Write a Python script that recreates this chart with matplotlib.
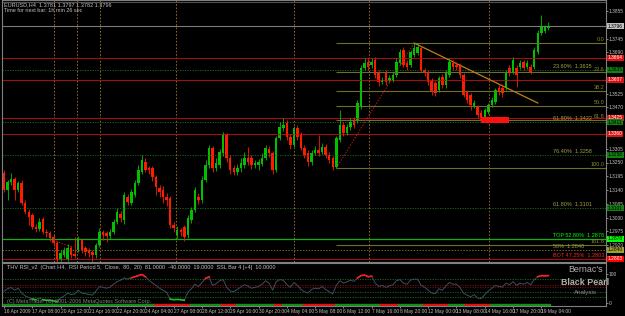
import numpy as np
import matplotlib
matplotlib.use("Agg")
import matplotlib.pyplot as plt
import matplotlib.transforms as mtrans

plt.rcParams['font.family'] = ['Liberation Sans', 'DejaVu Sans']

# EURUSD H4 candles
opens = [1.3208, 1.3140, 1.3172, 1.3184, 1.3140, 1.3168, 1.3088, 1.3052, 1.3040, 1.2992,
         1.2984, 1.3024, 1.2972, 1.2968, 1.2952, 1.2928, 1.2864, 1.2880, 1.2860, 1.2908,
         1.2884, 1.2900, 1.2940, 1.2908, 1.2900, 1.2892, 1.2880, 1.2920, 1.2972, 1.2968,
         1.2956, 1.2972, 1.3012, 1.3044, 1.3020, 1.3112, 1.3088, 1.3120, 1.3168, 1.3212,
         1.3252, 1.3228, 1.3228, 1.3192, 1.3148, 1.3140, 1.3112, 1.3108, 1.3000, 1.2960,
         1.2980, 1.2992, 1.2960, 1.3020, 1.3060, 1.3112, 1.3100, 1.3180, 1.3240, 1.3308,
         1.3228, 1.3240, 1.3288, 1.3360, 1.3268, 1.3228, 1.3212, 1.3228, 1.3240, 1.3268,
         1.3268, 1.3240, 1.3240, 1.3244, 1.3268, 1.3304, 1.3288, 1.3220, 1.3348, 1.3388,
         1.3408, 1.3352, 1.3320, 1.3388, 1.3360, 1.3308, 1.3288, 1.3252, 1.3288, 1.3300,
         1.3292, 1.3312, 1.3280, 1.3268, 1.3232, 1.3340, 1.3400, 1.3368, 1.3392, 1.3420,
         1.3420, 1.3472, 1.3628, 1.3652, 1.3640, 1.3660, 1.3612, 1.3572, 1.3612, 1.3580,
         1.3580, 1.3600, 1.3648, 1.3700, 1.3648, 1.3640, 1.3680, 1.3688, 1.3708, 1.3620,
         1.3612, 1.3580, 1.3568, 1.3540, 1.3592, 1.3560, 1.3600, 1.3648, 1.3640, 1.3640,
         1.3600, 1.3532, 1.3520, 1.3476, 1.3472, 1.3448, 1.3420, 1.3452, 1.3480, 1.3492,
         1.3548, 1.3548, 1.3548, 1.3628, 1.3612, 1.3628, 1.3632, 1.3652, 1.3632, 1.3632,
         1.3632, 1.3692, 1.3768, 1.3776, 1.3788]
highs = [1.3220, 1.3180, 1.3208, 1.3192, 1.3176, 1.3180, 1.3100, 1.3064, 1.3048, 1.3004,
         1.3028, 1.3032, 1.2984, 1.2976, 1.2960, 1.2936, 1.2900, 1.2912, 1.2924, 1.2916,
         1.2952, 1.2956, 1.2948, 1.2916, 1.2908, 1.2900, 1.2928, 1.2988, 1.2980, 1.2976,
         1.2984, 1.3024, 1.3068, 1.3056, 1.3132, 1.3124, 1.3144, 1.3180, 1.3240, 1.3280,
         1.3268, 1.3236, 1.3236, 1.3200, 1.3160, 1.3156, 1.3128, 1.3116, 1.3012, 1.2996,
         1.2988, 1.3000, 1.3040, 1.3072, 1.3152, 1.3128, 1.3196, 1.3260, 1.3320, 1.3316,
         1.3268, 1.3304, 1.3372, 1.3368, 1.3280, 1.3240, 1.3244, 1.3268, 1.3292, 1.3312,
         1.3280, 1.3260, 1.3264, 1.3288, 1.3320, 1.3316, 1.3296, 1.3356, 1.3412, 1.3428,
         1.3420, 1.3364, 1.3396, 1.3400, 1.3372, 1.3320, 1.3300, 1.3300, 1.3316, 1.3360,
         1.3328, 1.3324, 1.3292, 1.3276, 1.3356, 1.3460, 1.3412, 1.3404, 1.3428, 1.3432,
         1.3500, 1.3640, 1.3668, 1.3668, 1.3668, 1.3672, 1.3620, 1.3592, 1.3620, 1.3600,
         1.3612, 1.3668, 1.3704, 1.3712, 1.3660, 1.3700, 1.3728, 1.3724, 1.3716, 1.3628,
         1.3620, 1.3588, 1.3576, 1.3596, 1.3604, 1.3620, 1.3668, 1.3660, 1.3652, 1.3648,
         1.3608, 1.3540, 1.3528, 1.3500, 1.3480, 1.3460, 1.3468, 1.3488, 1.3512, 1.3548,
         1.3560, 1.3564, 1.3620, 1.3640, 1.3672, 1.3640, 1.3660, 1.3660, 1.3660, 1.3644,
         1.3712, 1.3780, 1.3840, 1.3800, 1.3812]
lows = [1.3132, 1.3100, 1.3160, 1.3100, 1.3132, 1.3080, 1.3044, 1.3000, 1.2984, 1.2972,
        1.2976, 1.2964, 1.2952, 1.2936, 1.2916, 1.2852, 1.2856, 1.2872, 1.2856, 1.2868,
        1.2868, 1.2892, 1.2888, 1.2876, 1.2872, 1.2852, 1.2868, 1.2912, 1.2940, 1.2932,
        1.2944, 1.2964, 1.3004, 1.3012, 1.3004, 1.3080, 1.3080, 1.3112, 1.3160, 1.3204,
        1.3212, 1.3204, 1.3176, 1.3120, 1.3112, 1.3088, 1.3076, 1.2988, 1.2972, 1.2948,
        1.2956, 1.2936, 1.2948, 1.3008, 1.3052, 1.3084, 1.3088, 1.3172, 1.3228, 1.3212,
        1.3216, 1.3228, 1.3276, 1.3252, 1.3204, 1.3200, 1.3200, 1.3212, 1.3228, 1.3240,
        1.3224, 1.3228, 1.3220, 1.3236, 1.3260, 1.3272, 1.3204, 1.3212, 1.3340, 1.3376,
        1.3340, 1.3304, 1.3312, 1.3340, 1.3300, 1.3268, 1.3236, 1.3240, 1.3280, 1.3276,
        1.3284, 1.3268, 1.3248, 1.3220, 1.3228, 1.3332, 1.3356, 1.3360, 1.3380, 1.3388,
        1.3408, 1.3464, 1.3620, 1.3620, 1.3628, 1.3588, 1.3556, 1.3564, 1.3560, 1.3572,
        1.3572, 1.3592, 1.3640, 1.3632, 1.3620, 1.3632, 1.3672, 1.3680, 1.3612, 1.3596,
        1.3560, 1.3520, 1.3516, 1.3532, 1.3548, 1.3548, 1.3592, 1.3620, 1.3620, 1.3588,
        1.3512, 1.3488, 1.3460, 1.3468, 1.3428, 1.3412, 1.3412, 1.3444, 1.3472, 1.3484,
        1.3520, 1.3512, 1.3540, 1.3596, 1.3604, 1.3552, 1.3624, 1.3620, 1.3624, 1.3604,
        1.3624, 1.3684, 1.3760, 1.3768, 1.3780]
closes = [1.3140, 1.3172, 1.3184, 1.3140, 1.3168, 1.3088, 1.3052, 1.3032, 1.2992, 1.2984,
          1.3012, 1.2972, 1.2968, 1.2948, 1.2928, 1.2864, 1.2888, 1.2900, 1.2908, 1.2880,
          1.2876, 1.2940, 1.2900, 1.2892, 1.2888, 1.2880, 1.2920, 1.2972, 1.2960, 1.2956,
          1.2972, 1.3012, 1.3052, 1.3028, 1.3120, 1.3092, 1.3132, 1.3168, 1.3220, 1.3260,
          1.3220, 1.3220, 1.3192, 1.3152, 1.3132, 1.3112, 1.3100, 1.3000, 1.2988, 1.2980,
          1.2972, 1.2952, 1.3028, 1.3060, 1.3140, 1.3100, 1.3180, 1.3240, 1.3308, 1.3228,
          1.3248, 1.3292, 1.3360, 1.3268, 1.3220, 1.3212, 1.3228, 1.3248, 1.3268, 1.3252,
          1.3240, 1.3248, 1.3252, 1.3268, 1.3308, 1.3288, 1.3220, 1.3348, 1.3392, 1.3400,
          1.3352, 1.3320, 1.3388, 1.3352, 1.3308, 1.3280, 1.3252, 1.3288, 1.3300, 1.3288,
          1.3312, 1.3280, 1.3260, 1.3232, 1.3348, 1.3400, 1.3368, 1.3392, 1.3412, 1.3400,
          1.3488, 1.3628, 1.3648, 1.3632, 1.3652, 1.3600, 1.3572, 1.3580, 1.3572, 1.3588,
          1.3600, 1.3652, 1.3692, 1.3640, 1.3632, 1.3692, 1.3708, 1.3712, 1.3620, 1.3608,
          1.3572, 1.3532, 1.3528, 1.3588, 1.3560, 1.3612, 1.3652, 1.3632, 1.3632, 1.3600,
          1.3520, 1.3500, 1.3480, 1.3488, 1.3440, 1.3420, 1.3460, 1.3480, 1.3500, 1.3540,
          1.3532, 1.3528, 1.3612, 1.3608, 1.3660, 1.3600, 1.3648, 1.3628, 1.3648, 1.3612,
          1.3700, 1.3768, 1.3796, 1.3792, 1.3796]

# THV RSI (period 5) values per bar
rsi = [42, 50, 55, 45, 52, 35, 25, 20, 14, 12,
       18, 12, 10, 9, 8, 5, 18, 25, 35, 30,
       32, 45, 35, 33, 30, 28, 42, 58, 55, 52,
       56, 66, 75, 80, 88, 84, 88, 92, 96, 100,
       92, 80, 70, 62, 52, 45, 38, 14, 12, 13,
       12, 10, 38, 50, 66, 58, 72, 86, 92, 62,
       68, 78, 82, 55, 42, 40, 48, 56, 64, 60,
       52, 55, 58, 66, 78, 70, 45, 75, 82, 80,
       65, 55, 72, 62, 48, 40, 35, 48, 52, 50,
       58, 48, 40, 32, 62, 78, 70, 74, 80, 76,
       88, 96, 98, 92, 94, 70, 58, 62, 55, 60,
       64, 78, 82, 70, 66, 80, 84, 83, 62, 56,
       45, 35, 33, 50, 45, 60, 72, 66, 66, 55,
       35, 28, 22, 30, 18, 16, 30, 42, 52, 62,
       58, 56, 70, 64, 75, 62, 70, 66, 72, 64,
       82, 92, 96, 95, 96]
rsi_levels = [85, 62, 55, 38, 20]
rsi_level_colors = ['#1f6e1f', '#7a1010', '#7a1010', '#1f6e1f', '#1f6e1f']

# SSL bar colour runs: (first bar, last bar, colour)
ssl_runs = [(0, 42, 'g'), (43, 52, 'r'), (53, 61, 'g'), (62, 65, 'r'), (66, 76, 'g'),
            (77, 78, 'r'), (79, 84, 'g'), (85, 93, 'r'), (94, 106, 'g'), (107, 111, 'r'),
            (112, 118, 'g'), (119, 125, 'r'), (126, 130, 'g'), (131, 137, 'r'), (138, 154, 'g')]

# horizontal levels
red_levels = [1.3668, 1.3580, 1.3428, 1.3364, 1.2864]
green_dotted = [1.3620, 1.3412, 1.3280, 1.3068]
top_level = 1.2944
mid_level = 1.2900
top_border = 1.3892
fib_lo_bar, fib_hi_bar = 94, 116
fib_ratios = [0.0, 23.6, 38.2, 50.0, 61.8, 100.0, 161.8]
trend_bars = [116, 151]
trend_prices = [1.3728, 1.3488]
old_fib_bars = [14, 19]
old_fib_prices = [1.2940, 1.2912]
vline_bars = [14.1, 20.7, 27.2, 48.7, 82.0, 103.3, 137.2]
zone_bars = [134.8, 142.8]
zone_prices = [1.3406, 1.3432]

# price scale labels left visible between the coloured boxes
price_ticks = [1.2920, 1.2975, 1.3030, 1.3085, 1.3140, 1.3195, 1.3250, 1.3305,
               1.3470, 1.3525, 1.3690, 1.3745, 1.3855]
# coloured price boxes on the axis: (price, text, face, text colour)
axis_boxes = [(1.3796, '1.3796', '#c0c0c0', 'black'), (1.3668, '1.3664', '#e01010', 'white'),
              (1.3620, '1.3635', '#108010', 'black'), (1.3580, '1.3607', '#e01010', 'white'),
              (1.3428, '1.3425', '#e01010', 'white'), (1.3412, '1.3411', '#108010', 'black'),
              (1.3364, '1.3360', '#e01010', 'white'), (1.3280, '1.3258', '#108010', 'black'),
              (1.3068, '1.3101', '#108010', 'black'), (1.2944, '1.2878', '#00ff00', 'black'),
              (1.2900, '1.2840', '#a0a030', 'black'), (1.2864, '1.2803', '#ff0000', 'white')]
level_texts = [(1.3620, '23.60%  1.3635', '#a0a040'), (1.3412, '61.80%  1.3422', '#a0a040'),
               (1.3280, '76.40%  1.3258', '#a0a040'), (1.3068, '61.80%  1.3101', '#a0a040'),
               (1.2944, 'TOP 52.80%  1.2878', '#00ff00'), (1.2900, '50%  1.2840', '#a0a040'),
               (1.2864, 'BOT 47.25%  1.2803', '#ff2020')]

time_ticks = [0, 8, 16, 24, 32, 40, 48, 56, 64, 72, 80, 88, 96, 104, 112, 120, 128, 136, 144, 152]
time_labels = ['16 Apr 2009', '17 Apr 08:00', '20 Apr 12:00', '21 Apr 16:00', '22 Apr 20:00',
               '24 Apr 04:00', '27 Apr 08:00', '28 Apr 12:00', '29 Apr 16:00', '30 Apr 20:00',
               '4 May 04:00', '5 May 08:00', '6 May 12:00', '7 May 16:00', '8 May 20:00',
               '12 May 00:00', '13 May 08:00', '14 May 16:00', '17 May 20:00', '19 May 04:00']

opens, highs, lows, closes = map(np.array, (opens, highs, lows, closes))
rsi = np.array(rsi, dtype=float)
idx = np.arange(len(closes))
XL = (-0.57, 170.3)
FS = 4.0
AFS = 3.5
GRAY = '#c0c0c0'

fig = plt.figure(figsize=(6.25, 3.16), dpi=100, facecolor='black')
ax = fig.add_axes([2 / 625, 54 / 316, 604 / 625, 262 / 316], facecolor='black')
ax2 = fig.add_axes([2 / 625, 10 / 316, 604 / 625, 43 / 316], facecolor='black')

# ---- main chart
ax.set_xlim(*XL)
ax.set_ylim(1.2852, 1.3900)

for b in vline_bars:
    ax.axvline(b, color='#a07828', lw=0.6, ls=(0, (2, 2)))
for p in red_levels:
    ax.axhline(p, color='#a01010', lw=0.8)
for p in green_dotted:
    ax.axhline(p, color='#1f6e1f', lw=0.6, ls=(0, (1.5, 1.5)))
ax.axhline(top_level, color='#10b010', lw=0.9)
ax.axhline(mid_level, color='#6a6a20', lw=0.7, ls=(0, (1.5, 1.5)))
ax.axhline(top_border, color='#505050', lw=0.8)
ax.axhline(closes[-1], color='#7a7a7a', lw=0.8)

fib_hi = highs[fib_hi_bar]
fib_lo = lows[fib_lo_bar]
for r in fib_ratios:
    lv = fib_hi - r / 100 * (fib_hi - fib_lo)
    ax.hlines(lv, fib_lo_bar, XL[1], color='#6e6e28', lw=0.8)
    ax.text(XL[1] - 0.4, lv + 0.0003, '%.1f' % r, color='#8a8a30', fontsize=FS,
            ha='right', va='bottom')
ax.plot([fib_lo_bar, fib_hi_bar], [fib_lo, fib_hi], color='#c01818', lw=0.7,
        ls=(0, (1.5, 1.5)))
ax.plot(old_fib_bars, old_fib_prices, color='#c01818', lw=0.7, ls=(0, (1.5, 1.5)))
ax.plot(trend_bars, trend_prices, color='#c08018', lw=0.9)

up = closes >= opens
cols = np.where(up, '#00c000', '#ff1a00')
ax.vlines(idx, lows, highs, colors=cols, lw=0.6)
ax.bar(idx, np.maximum(np.abs(closes - opens), 0.0003), bottom=np.minimum(opens, closes),
       width=0.7, color=cols, lw=0)
ax.fill_between(zone_bars, zone_prices[0], zone_prices[1], color='#ff1010', lw=0, zorder=3)

for p, t, c in level_texts:
    ax.text(155.3, p + 0.0002, t, color=c, fontsize=FS, ha='left', va='bottom')

ax.yaxis.tick_right()
ax.set_yticks(price_ticks)
ax.set_yticklabels(['%.4f' % t for t in price_ticks])
ax.tick_params(axis='y', colors=GRAY, labelsize=AFS, length=1.2, width=0.5, pad=0.6)
ax.set_xticks([])
for s in ax.spines.values():
    s.set_color('#808080')
    s.set_linewidth(0.8)

tr = mtrans.blended_transform_factory(ax.transAxes, ax.transData)
for p, t, fc, tc in axis_boxes:
    ax.text(1.0032, p, t, transform=tr, fontsize=AFS, color=tc, ha='left', va='center',
            bbox=dict(boxstyle='square,pad=0.12', fc=fc, ec='none'))

fig.text(4 / 625, 1 - 5 / 316, 'EURUSD,H4  1.3781 1.3797 1.3782 1.3796', color=GRAY,
         fontsize=FS, va='center')
fig.text(4 / 625, 1 - 11 / 316, 'Time for next bar: 1h min 26 sec', color=GRAY,
         fontsize=FS, va='center')

# ---- indicator window
ax2.set_xlim(*XL)
ax2.set_ylim(-10, 140)
for lv, c in zip(rsi_levels, rsi_level_colors):
    ax2.axhline(lv, color=c, lw=0.6, ls=(0, (1.5, 1.5)))
ax2.plot(idx, rsi, color='#3e4e5e', lw=0.7)
hot = np.where(rsi >= 85, rsi, np.nan)
cold = np.where(rsi <= 15, rsi, np.nan)
ax2.plot(idx, hot, color='#ff2020', lw=1.2)
ax2.plot(idx, cold, color='#20c020', lw=1.2)
for a, b, c in ssl_runs:
    ax2.broken_barh([(a - 0.5, b - a + 1)], (-10, 8),
                    color='#e01010' if c == 'r' else '#109010')
ax2.text(0.8, 126, 'THV RSI_v2  (Chart H4,  RSI Period 5,  Close,  80,  20)  81.0000  '
         '-40.0000  19.0000  SSL Bar 4 [+4]  10.0000', color=GRAY, fontsize=FS, va='center')
ax2.text(0.8, 4, '(C) MetaTrader (C) 2001-2006 MetaQuotes Software Corp.', color='#808080',
         fontsize=FS, va='center')
ax2.text(164.5, 116, "Bernac's", color='#b0b0b0', fontsize=6.4, ha='center', va='center')
ax2.text(164.5, 72, 'Black Pearl', color='#b0b0b0', fontsize=6.4, ha='center', va='center',
         fontweight='bold')
ax2.text(164.5, 36, 'Analysis', color='#909090', fontsize=4.4, ha='center', va='center')
ax2.yaxis.tick_right()
ax2.set_yticks([0, 100])
ax2.set_yticklabels(['0', '100'])
ax2.tick_params(axis='y', colors=GRAY, labelsize=AFS, length=1.2, width=0.5, pad=0.6)
ax2.set_xticks(time_ticks)
ax2.set_xticklabels(time_labels, ha='left')
ax2.tick_params(axis='x', colors=GRAY, labelsize=AFS, length=1.2, width=0.5, pad=0.6)
for s in ax2.spines.values():
    s.set_color('#808080')
    s.set_linewidth(0.8)

fig.savefig('out.png', dpi=100, facecolor='black')
